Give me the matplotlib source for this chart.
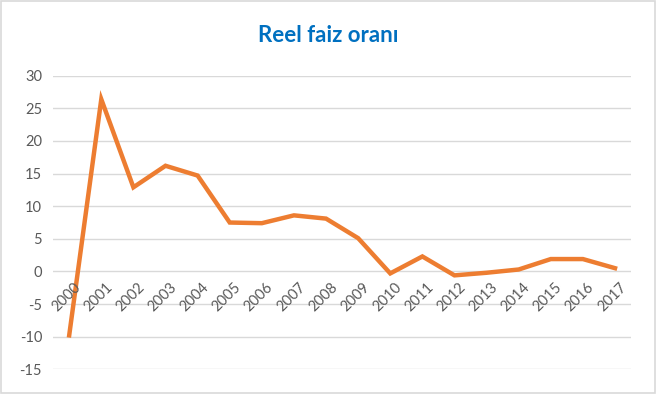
import matplotlib
matplotlib.use("Agg")
import matplotlib.pyplot as plt
import matplotlib.patches as patches

years = [str(y) for y in range(2000, 2018)]
rates = [-9.8, 26.4, 12.9, 16.2, 14.7, 7.5, 7.4, 8.6, 8.1, 5.1,
         -0.3, 2.3, -0.6, -0.2, 0.3, 1.9, 1.9, 0.5]
y_ticks = [-15, -10, -5, 0, 5, 10, 15, 20, 25, 30]

plt.rcParams["font.family"] = ["Lato", "DejaVu Sans"]

fig = plt.figure(figsize=(6.56, 3.94), dpi=100)
ax = fig.add_axes([0.081, 0.0627, 0.881, 0.745])

ax.plot(range(len(years)), rates, color="#ED7D31", linewidth=3.2,
        solid_joinstyle="miter", zorder=3)

ax.set_xlim(-0.5, len(years) - 0.5)
ax.set_ylim(-15, 30)
ax.set_yticks(y_ticks)
ax.set_yticklabels([str(v) for v in y_ticks], fontsize=10.5, color="#595959")
ax.tick_params(axis="y", length=0, pad=8)
ax.set_xticks([])
ax.grid(axis="y", color="#D9D9D9", linewidth=1.0)
ax.set_axisbelow(True)
for s in ax.spines.values():
    s.set_visible(False)

for i, yr in enumerate(years):
    ax.annotate(yr, (i, 0), xytext=(3, -6), textcoords="offset points",
                ha="right", va="top", rotation=45, rotation_mode="anchor",
                fontsize=10.5, color="#595959")

fig.text(0.5, 0.91, "Reel faiz oranı", ha="center", va="center",
         fontsize=16, fontweight="bold", color="#0070C0")

fig.patches.append(patches.Rectangle((0.001, 0.002), 0.997, 0.995,
                                     transform=fig.transFigure, fill=False,
                                     edgecolor="#D9D9D9", linewidth=1.2))

fig.savefig("out.png", dpi=100)
